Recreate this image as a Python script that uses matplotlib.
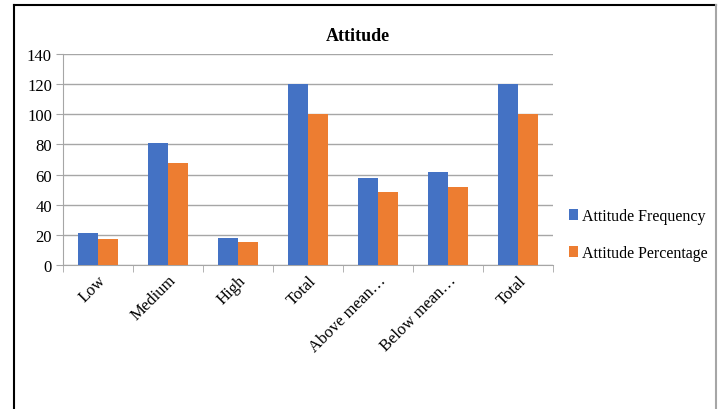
import matplotlib.pyplot as plt
import numpy as np
from matplotlib.lines import Line2D

# ---------- Дані ----------
categories = ["Low", "Medium", "High", "Total", "Above mean\u2026", "Below mean\u2026", "Total"]
frequency = [21, 81, 18, 120, 58, 62, 120]
percentage = [17.5, 67.5, 15, 100, 48.3, 51.7, 100]
series_names = ["Attitude Frequency", "Attitude Percentage"]
y_ticks = [0, 20, 40, 60, 80, 100, 120, 140]

plt.rcParams["font.family"] = ["Liberation Serif", "DejaVu Serif"]

fig = plt.figure(figsize=(7.2, 4.1), dpi=100)
ax = fig.add_axes([0.0875, 0.351, 0.6806, 0.515])

x = np.arange(len(categories))
w = 0.28
grid_c = "#A6A6A6"
ax.bar(x - w / 2, frequency, width=w, color="#4472C4", label=series_names[0], zorder=3)
ax.bar(x + w / 2, percentage, width=w, color="#ED7D31", label=series_names[1], zorder=3)

ax.set_xlim(-0.5, len(categories) - 0.5)
ax.set_ylim(0, 140)
ax.set_yticks(y_ticks)
ax.tick_params(axis="y", labelsize=12, length=5, color=grid_c, pad=3)
ax.yaxis.grid(True, color=grid_c, linewidth=1, zorder=0)

# підписи по центру категорій, риски між категоріями
ax.set_xticks(x)
ax.set_xticklabels(categories, rotation=45, ha="right", rotation_mode="anchor", fontsize=12)
ax.tick_params(axis="x", which="major", length=0, pad=5)
ax.set_xticks(np.arange(-0.5, len(categories)), minor=True)
ax.tick_params(axis="x", which="minor", length=5, color=grid_c)

for s in ["top", "right"]:
    ax.spines[s].set_visible(False)
ax.spines["left"].set_color(grid_c)
ax.spines["bottom"].set_color(grid_c)

fig.text(0.497, 0.91, "Attitude", ha="center", va="center", fontsize=13, fontweight="bold")

fig.legend(loc="center left", bbox_to_anchor=(0.77, 0.425), frameon=False,
           fontsize=11.5, handlelength=0.55, handleheight=0.7, handletextpad=0.3,
           labelspacing=1.3)

# рамка
fig.add_artist(Line2D([14 / 720, 14 / 720], [0, 1 - 6 / 410], color="black", lw=1.5))
fig.add_artist(Line2D([14 / 720, 716 / 720], [1 - 6 / 410, 1 - 6 / 410], color="black", lw=1.5))
fig.add_artist(Line2D([716 / 720, 716 / 720], [0, 1 - 6 / 410], color="#A6A6A6", lw=1.5))

plt.savefig("out.png", dpi=100)
